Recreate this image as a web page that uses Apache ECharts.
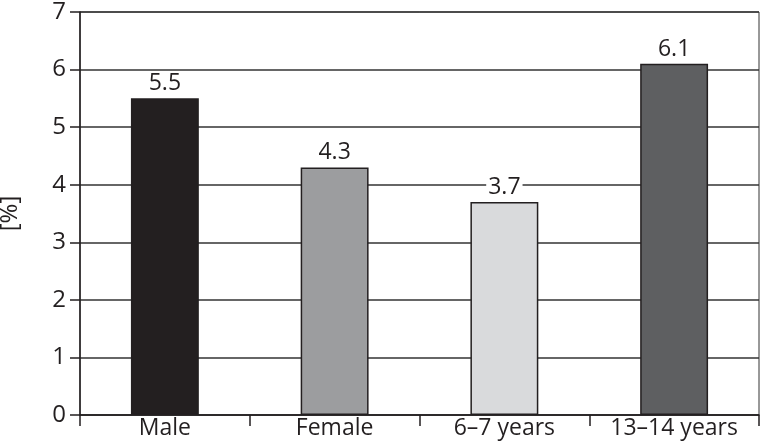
<!DOCTYPE html>
<html>
<head>
<meta charset="utf-8">
<script src="https://cdn.jsdelivr.net/npm/echarts@6/dist/echarts.min.js"></script>
<style>
  html, body { margin: 0; padding: 0; background: #fff; }
  #chart { width: 760px; height: 447px; }
</style>
</head>
<body>
<div id="chart"></div>
<script>
const categories = ["Male", "Female", "6–7 years", "13–14 years"];
const values = [5.5, 4.3, 3.7, 6.1];
const barColors = ["#231f20", "#9c9d9f", "#d9dadc", "#5e5f61"];

const fontFamily = "'Open Sans', sans-serif";
const ink = "#231f20";

const chart = echarts.init(document.getElementById("chart"));

chart.setOption({
    backgroundColor: "#fff",
    animation: false,
    grid: {
        left: 80,
        right: 1,
        top: 12,
        bottom: 32,
        outerBoundsMode: "none",
        containLabel: false,
        show: true,
        borderColor: "#333",
        borderWidth: 1
    },
    xAxis: {
        type: "category",
        data: categories,
        axisLine: { lineStyle: { color: ink, width: 1.5 } },
        axisTick: { show: true, length: 11, lineStyle: { color: ink, width: 1.5 } },
        axisLabel: {
            color: ink,
            fontFamily: fontFamily,
            fontSize: 23,
            margin: 2
        }
    },
    yAxis: {
        type: "value",
        min: 0,
        max: 7,
        interval: 1,
        name: "[%]",
        nameLocation: "middle",
        nameGap: 58,
        nameRotate: 90,
        nameTextStyle: { color: ink, fontFamily: fontFamily, fontSize: 24 },
        axisLine: { show: true, lineStyle: { color: ink, width: 1.5 } },
        axisTick: { show: true, length: 10, lineStyle: { color: ink, width: 1.5 } },
        axisLabel: {
            color: ink,
            fontFamily: fontFamily,
            fontSize: 24,
            margin: 14
        },
        splitLine: { lineStyle: { color: "#333", width: 1.5 } }
    },
    series: [
        {
            type: "bar",
            barWidth: "40%",
            data: values.map((v, i) => ({
                value: v,
                itemStyle: { color: barColors[i] }
            })),
            itemStyle: { borderColor: ink, borderWidth: 1.5 },
            label: {
                show: true,
                position: "top",
                distance: 3,
                color: ink,
                fontFamily: fontFamily,
                fontSize: 23,
                backgroundColor: "#fff",
                padding: [0, 2]
            }
        }
    ]
});
</script>
</body>
</html>
